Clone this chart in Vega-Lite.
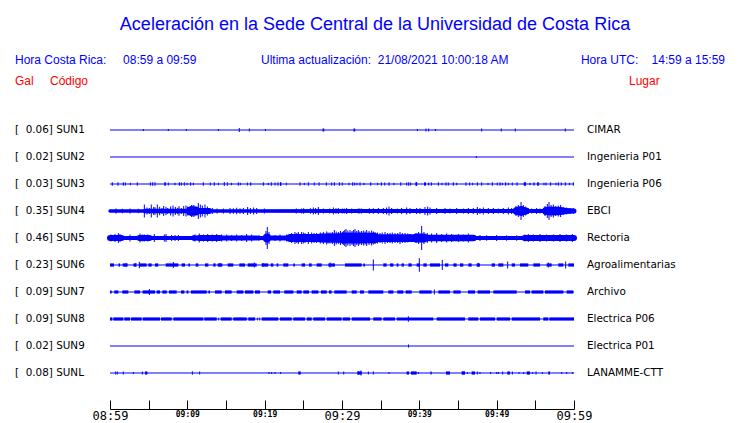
{
 "$schema": "https://vega.github.io/schema/vega-lite/v6.json",
 "width": 740, "height": 369,
 "autosize": {"type": "none"},
 "padding": {"top": 40, "bottom": 14, "left": 0, "right": 0},
 "background": "white",
 "title": {"text": "Aceleración en la Sede Central de la Universidad de Costa Rica", "font": "Liberation Sans", "fontSize": 18, "fontWeight": "normal", "color": "#0000ff", "anchor": "middle", "frame": "group", "baseline": "alphabetic", "offset": 12, "dx": 5, "dy": 20},
 "config": {"view": {"stroke": null}},
 "datasets": {
  "traces": [
   {"i":0,"label":"[\u00a0\u00a00.06] SUN1","place":"CIMAR"},
   {"i":1,"label":"[\u00a0\u00a00.02] SUN2","place":"Ingenieria P01"},
   {"i":2,"label":"[\u00a0\u00a00.03] SUN3","place":"Ingenieria P06"},
   {"i":3,"label":"[\u00a0\u00a00.35] SUN4","place":"EBCI"},
   {"i":4,"label":"[\u00a0\u00a00.46] SUN5","place":"Rectoria"},
   {"i":5,"label":"[\u00a0\u00a00.23] SUN6","place":"Agroalimentarias"},
   {"i":6,"label":"[\u00a0\u00a00.09] SUN7","place":"Archivo"},
   {"i":7,"label":"[\u00a0\u00a00.09] SUN8","place":"Electrica P06"},
   {"i":8,"label":"[\u00a0\u00a00.02] SUN9","place":"Electrica P01"},
   {"i":9,"label":"[\u00a0\u00a00.08] SUNL","place":"LANAMME-CTT"}
  ],
  "env": [
   {"i":3,"t":0,"a":1.7},{"i":3,"t":4.3,"a":1.7},{"i":3,"t":4.5,"a":2.2},{"i":3,"t":10.2,"a":2.2},{"i":3,"t":10.4,"a":4.5},{"i":3,"t":11.1,"a":4.5},{"i":3,"t":11.4,"a":3},{"i":3,"t":12.8,"a":3},{"i":3,"t":13.1,"a":1.8},{"i":3,"t":30,"a":2},{"i":3,"t":52.3,"a":2},{"i":3,"t":52.6,"a":4},{"i":3,"t":53.2,"a":5},{"i":3,"t":53.8,"a":3.5},{"i":3,"t":54.2,"a":2},{"i":3,"t":56.1,"a":2},{"i":3,"t":56.4,"a":4},{"i":3,"t":57,"a":4.5},{"i":3,"t":58.3,"a":4},{"i":3,"t":59,"a":3},{"i":3,"t":60,"a":2.5},
   {"i":4,"t":0,"a":3},{"i":4,"t":1.5,"a":3},{"i":4,"t":1.7,"a":1.9},{"i":4,"t":3.6,"a":1.9},{"i":4,"t":3.8,"a":3},{"i":4,"t":5.1,"a":3},{"i":4,"t":5.3,"a":1.9},{"i":4,"t":10.7,"a":1.9},{"i":4,"t":10.9,"a":3},{"i":4,"t":11.3,"a":2.2},{"i":4,"t":11.5,"a":3},{"i":4,"t":14.2,"a":3},{"i":4,"t":14.4,"a":2.5},{"i":4,"t":19,"a":2.5},{"i":4,"t":19.3,"a":1.9},{"i":4,"t":20,"a":2.2},{"i":4,"t":20.3,"a":4.5},{"i":4,"t":20.7,"a":2.5},{"i":4,"t":23.1,"a":2.5},{"i":4,"t":23.3,"a":4},{"i":4,"t":26.9,"a":4},{"i":4,"t":27.2,"a":4.5},{"i":4,"t":29.7,"a":4.8},{"i":4,"t":30.2,"a":5.5},{"i":4,"t":34.2,"a":5.2},{"i":4,"t":34.5,"a":4},{"i":4,"t":39.3,"a":3.8},{"i":4,"t":39.6,"a":4.5},{"i":4,"t":40.6,"a":4.5},{"i":4,"t":40.9,"a":3.2},{"i":4,"t":47,"a":3.2},{"i":4,"t":47.3,"a":2},{"i":4,"t":53.3,"a":2},{"i":4,"t":53.6,"a":3},{"i":4,"t":60,"a":3}
  ],
  "blobs": [
   {"i":2,"t":7.05,"t2":7.2},{"i":2,"t":22.02,"t2":22.15},{"i":2,"t":39.5,"t2":39.72},{"i":2,"t":40.62,"t2":40.85},{"i":2,"t":53.5,"t2":53.8},{"i":2,"t":55.25,"t2":55.45},
   {"i":5,"t":0,"t2":0.52},{"i":5,"t":1.1,"t2":1.3},{"i":5,"t":1.64,"t2":2.28},{"i":5,"t":3.02,"t2":3.36},{"i":5,"t":3.79,"t2":4.74},{"i":5,"t":4.96,"t2":5.39},{"i":5,"t":5.82,"t2":6.25},{"i":5,"t":7.2,"t2":8.84},{"i":5,"t":9.27,"t2":9.7},{"i":5,"t":10.13,"t2":10.34},{"i":5,"t":11.08,"t2":11.42},{"i":5,"t":12.28,"t2":12.72},{"i":5,"t":13.36,"t2":13.66},{"i":5,"t":13.92,"t2":14.53},{"i":5,"t":15.22,"t2":15.95},{"i":5,"t":16.72,"t2":17.46},{"i":5,"t":17.8,"t2":18.97},{"i":5,"t":19.61,"t2":20.47},{"i":5,"t":20.78,"t2":21.12},{"i":5,"t":21.55,"t2":21.77},{"i":5,"t":22.41,"t2":23.06},{"i":5,"t":23.71,"t2":23.92},{"i":5,"t":24.78,"t2":25.22},{"i":5,"t":25.73,"t2":26.08},{"i":5,"t":26.72,"t2":27.37},{"i":5,"t":28.23,"t2":29.09},{"i":5,"t":30.39,"t2":32.54},{"i":5,"t":32.76,"t2":32.97},{"i":5,"t":35.34,"t2":35.77},{"i":5,"t":36.21,"t2":36.64},{"i":5,"t":37.07,"t2":37.3},{"i":5,"t":37.7,"t2":38.0},{"i":5,"t":38.58,"t2":39.01},{"i":5,"t":39.65,"t2":40.08},{"i":5,"t":40.52,"t2":40.95},{"i":5,"t":41.38,"t2":42.67},{"i":5,"t":43.32,"t2":43.75},{"i":5,"t":44.4,"t2":44.83},{"i":5,"t":45.26,"t2":45.69},{"i":5,"t":46.34,"t2":46.77},{"i":5,"t":47.41,"t2":47.84},{"i":5,"t":49.35,"t2":49.78},{"i":5,"t":50.21,"t2":50.86},{"i":5,"t":51.94,"t2":52.37},{"i":5,"t":53.02,"t2":54.09},{"i":5,"t":54.74,"t2":55.6},{"i":5,"t":56.46,"t2":57.11},{"i":5,"t":57.97,"t2":58.62},{"i":5,"t":59.27,"t2":60},
   {"i":6,"t":0,"t2":0.22},{"i":6,"t":0.56,"t2":1.08},{"i":6,"t":1.59,"t2":2.37},{"i":6,"t":3.15,"t2":3.88},{"i":6,"t":4.22,"t2":5.82},{"i":6,"t":6.03,"t2":6.47},{"i":6,"t":6.77,"t2":7.33},{"i":6,"t":7.63,"t2":8.62},{"i":6,"t":9.18,"t2":9.61},{"i":6,"t":9.91,"t2":10.13},{"i":6,"t":10.47,"t2":12.5},{"i":6,"t":12.72,"t2":12.93},{"i":6,"t":13.58,"t2":14.44},{"i":6,"t":14.87,"t2":15.73},{"i":6,"t":16.38,"t2":17.24},{"i":6,"t":17.46,"t2":18.53},{"i":6,"t":18.75,"t2":19.4},{"i":6,"t":20.39,"t2":20.82},{"i":6,"t":21.12,"t2":21.98},{"i":6,"t":22.54,"t2":23.71},{"i":6,"t":24.14,"t2":24.78},{"i":6,"t":25,"t2":25.73},{"i":6,"t":26.08,"t2":26.94},{"i":6,"t":27.28,"t2":28.02},{"i":6,"t":28.32,"t2":28.66},{"i":6,"t":29.01,"t2":30.6},{"i":6,"t":31.25,"t2":31.9},{"i":6,"t":32.33,"t2":32.84},{"i":6,"t":33.4,"t2":35.34},{"i":6,"t":35.99,"t2":36.64},{"i":6,"t":37.15,"t2":37.93},{"i":6,"t":38.23,"t2":39.01},{"i":6,"t":40,"t2":41.59},{"i":6,"t":42.46,"t2":43.96},{"i":6,"t":44.4,"t2":45.34},{"i":6,"t":46.29,"t2":47.2},{"i":6,"t":47.54,"t2":49.14},{"i":6,"t":49.57,"t2":52.59},{"i":6,"t":53.66,"t2":54.31},{"i":6,"t":54.52,"t2":56.03},{"i":6,"t":56.25,"t2":58.62},{"i":6,"t":59.05,"t2":59.91},
   {"i":7,"t":0,"t2":0.3},{"i":7,"t":0.43,"t2":1.72},{"i":7,"t":1.85,"t2":2.59},{"i":7,"t":2.72,"t2":4.1},{"i":7,"t":4.23,"t2":6.47},{"i":7,"t":6.6,"t2":7.98},{"i":7,"t":8.19,"t2":12.07},{"i":7,"t":12.19,"t2":13.8},{"i":7,"t":14.0,"t2":14.1},{"i":7,"t":14.31,"t2":15.74},{"i":7,"t":15.94,"t2":17.68},{"i":7,"t":17.88,"t2":18.75},{"i":7,"t":19.0,"t2":19.1},{"i":7,"t":19.3,"t2":19.4},{"i":7,"t":19.62,"t2":21.76},{"i":7,"t":21.98,"t2":23.5},{"i":7,"t":23.7,"t2":25.22},{"i":7,"t":25.44,"t2":26.08},{"i":7,"t":26.29,"t2":27.8},{"i":7,"t":28.02,"t2":29.96},{"i":7,"t":30.09,"t2":31.04},{"i":7,"t":31.26,"t2":33.62},{"i":7,"t":34.05,"t2":35.13},{"i":7,"t":35.34,"t2":36.85},{"i":7,"t":37.07,"t2":41.81},{"i":7,"t":42.25,"t2":45.91},{"i":7,"t":46.33,"t2":47.63},{"i":7,"t":47.85,"t2":49.79},{"i":7,"t":50.01,"t2":51.73},{"i":7,"t":51.95,"t2":55.61},{"i":7,"t":56.03,"t2":56.68},{"i":7,"t":56.81,"t2":60},
   {"i":9,"t":4.53,"t2":4.83},{"i":9,"t":24.35,"t2":24.66},{"i":9,"t":31.98,"t2":32.54},{"i":9,"t":38.36,"t2":38.66},{"i":9,"t":38.92,"t2":39.66},{"i":9,"t":41.43,"t2":41.6},{"i":9,"t":43.45,"t2":43.97},{"i":9,"t":45.47,"t2":45.9},{"i":9,"t":46.77,"t2":47.2},{"i":9,"t":51.38,"t2":51.72},{"i":9,"t":53.88,"t2":54.31},{"i":9,"t":56.68,"t2":56.9}
  ],
  "spikes": [
   {"i":0,"t":4.31,"a":1},{"i":0,"t":7.54,"a":1},{"i":0,"t":9.87,"a":1},{"i":0,"t":14.01,"a":1},{"i":0,"t":16.72,"a":2},{"i":0,"t":18.02,"a":1.5},{"i":0,"t":20.09,"a":1},{"i":0,"t":27.55,"a":1.5},{"i":0,"t":27.65,"a":1.5},{"i":0,"t":31.55,"a":1.5},{"i":0,"t":31.64,"a":1.5},{"i":0,"t":39.74,"a":1},{"i":0,"t":40.86,"a":1.5},{"i":0,"t":41.21,"a":1.5},{"i":0,"t":42.07,"a":1},{"i":0,"t":48.06,"a":1.5},{"i":0,"t":50.6,"a":1.5},{"i":0,"t":52.41,"a":1.5},{"i":0,"t":58.88,"a":1.5},
   {"i":1,"t":47.37,"a":1},
   {"i":2,"t":0.3,"a":1.7},{"i":2,"t":1.03,"a":1.7},{"i":2,"t":1.72,"a":1.7},{"i":2,"t":1.98,"a":1.5},{"i":2,"t":2.63,"a":1.2},{"i":2,"t":3.53,"a":1.7},{"i":2,"t":5.22,"a":1.7},{"i":2,"t":5.52,"a":1.7},{"i":2,"t":5.82,"a":1.7},{"i":2,"t":7.11,"a":1.7},{"i":2,"t":7.54,"a":1.5},{"i":2,"t":8.41,"a":1.2},{"i":2,"t":8.97,"a":1.7},{"i":2,"t":9.22,"a":1.5},{"i":2,"t":9.61,"a":1.7},{"i":2,"t":9.96,"a":1.2},{"i":2,"t":10.43,"a":1.7},{"i":2,"t":10.78,"a":1.2},{"i":2,"t":12.07,"a":1.7},{"i":2,"t":12.97,"a":1.5},{"i":2,"t":13.49,"a":1.7},{"i":2,"t":14.01,"a":1.2},{"i":2,"t":14.78,"a":2},{"i":2,"t":15.17,"a":1.7},{"i":2,"t":15.69,"a":1.2},{"i":2,"t":16.59,"a":1.7},{"i":2,"t":16.85,"a":1.2},{"i":2,"t":17.76,"a":1.5},{"i":2,"t":18.19,"a":1.7},{"i":2,"t":19.83,"a":1.7},{"i":2,"t":20.47,"a":1.2},{"i":2,"t":20.86,"a":1.7},{"i":2,"t":21.34,"a":1.5},{"i":2,"t":21.72,"a":1.7},{"i":2,"t":22.07,"a":2},{"i":2,"t":22.8,"a":1.2},{"i":2,"t":24.57,"a":1.7},{"i":2,"t":25.13,"a":1.2},{"i":2,"t":25.65,"a":1.7},{"i":2,"t":26.42,"a":1.5},{"i":2,"t":27.03,"a":1.7},{"i":2,"t":27.97,"a":1.7},{"i":2,"t":28.66,"a":1.5},{"i":2,"t":29.01,"a":1.7},{"i":2,"t":29.66,"a":1.7},{"i":2,"t":30.04,"a":1.5},{"i":2,"t":30.9,"a":1.2},{"i":2,"t":31.38,"a":1.7},{"i":2,"t":31.64,"a":1.5},{"i":2,"t":31.94,"a":1.2},{"i":2,"t":32.33,"a":1.7},{"i":2,"t":32.84,"a":1.2},{"i":2,"t":33.71,"a":1.7},{"i":2,"t":34.61,"a":1.2},{"i":2,"t":35.09,"a":1.7},{"i":2,"t":35.52,"a":1.5},{"i":2,"t":36.08,"a":1.7},{"i":2,"t":36.72,"a":1.2},{"i":2,"t":37.6,"a":1.7},{"i":2,"t":38.36,"a":1.5},{"i":2,"t":38.62,"a":1.7},{"i":2,"t":38.88,"a":1.5},{"i":2,"t":39.61,"a":2},{"i":2,"t":40.73,"a":1.7},{"i":2,"t":41.21,"a":1.5},{"i":2,"t":41.55,"a":1.7},{"i":2,"t":42.46,"a":1.7},{"i":2,"t":42.93,"a":1.2},{"i":2,"t":43.45,"a":1.7},{"i":2,"t":43.75,"a":1.5},{"i":2,"t":44.4,"a":1.7},{"i":2,"t":44.83,"a":1.2},{"i":2,"t":46.03,"a":1.7},{"i":2,"t":46.51,"a":1.5},{"i":2,"t":46.9,"a":1.2},{"i":2,"t":47.5,"a":1.7},{"i":2,"t":48.06,"a":1.7},{"i":2,"t":48.88,"a":1.2},{"i":2,"t":49.44,"a":1.7},{"i":2,"t":50.08,"a":1.5},{"i":2,"t":50.43,"a":1.7},{"i":2,"t":50.73,"a":1.2},{"i":2,"t":51.16,"a":1.7},{"i":2,"t":51.51,"a":1.2},{"i":2,"t":52.02,"a":1.5},{"i":2,"t":52.63,"a":1.7},{"i":2,"t":53.66,"a":2},{"i":2,"t":54.31,"a":1.2},{"i":2,"t":54.83,"a":1.7},{"i":2,"t":55.34,"a":1.7},{"i":2,"t":56.12,"a":1.2},{"i":2,"t":56.38,"a":1.5},{"i":2,"t":56.98,"a":1.7},{"i":2,"t":57.67,"a":1.2},{"i":2,"t":57.97,"a":1.7},{"i":2,"t":58.36,"a":1.5},{"i":2,"t":58.88,"a":1.7},{"i":2,"t":59.4,"a":1.2},{"i":2,"t":59.91,"a":1.7},
   {"i":3,"t":0.78,"a":2.5},{"i":3,"t":1.59,"a":2.3},{"i":3,"t":2.59,"a":2.5},{"i":3,"t":3.66,"a":2.2},{"i":3,"t":4.44,"a":6.5},{"i":3,"t":4.78,"a":3.5},{"i":3,"t":5.09,"a":3},{"i":3,"t":5.34,"a":6.5},{"i":3,"t":5.65,"a":4},{"i":3,"t":5.82,"a":3.8},{"i":3,"t":6.12,"a":6.5},{"i":3,"t":6.42,"a":4.3},{"i":3,"t":6.72,"a":3},{"i":3,"t":6.94,"a":5},{"i":3,"t":7.24,"a":4.3},{"i":3,"t":7.46,"a":3},{"i":3,"t":7.84,"a":4.5},{"i":3,"t":8.15,"a":5.5},{"i":3,"t":8.45,"a":4},{"i":3,"t":8.75,"a":3.3},{"i":3,"t":8.92,"a":4.8},{"i":3,"t":9.22,"a":3},{"i":3,"t":9.53,"a":5},{"i":3,"t":9.83,"a":5.5},{"i":3,"t":10.04,"a":4.5},{"i":3,"t":10.4,"a":5},{"i":3,"t":10.55,"a":6},{"i":3,"t":10.7,"a":5.5},{"i":3,"t":10.85,"a":6},{"i":3,"t":11.0,"a":4.5},{"i":3,"t":11.42,"a":8},{"i":3,"t":11.68,"a":6.5},{"i":3,"t":11.94,"a":5.5},{"i":3,"t":12.28,"a":6.5},{"i":3,"t":12.59,"a":4.5},{"i":3,"t":12.89,"a":3},{"i":3,"t":13.23,"a":3},{"i":3,"t":13.84,"a":2.5},{"i":3,"t":14.66,"a":2.5},{"i":3,"t":15.52,"a":3},{"i":3,"t":15.95,"a":2.8},{"i":3,"t":16.38,"a":3.2},{"i":3,"t":16.81,"a":2.8},{"i":3,"t":17.24,"a":3},{"i":3,"t":17.8,"a":4},{"i":3,"t":18.15,"a":3},{"i":3,"t":18.58,"a":3.5},{"i":3,"t":18.97,"a":3},{"i":3,"t":19.96,"a":2.5},{"i":3,"t":24.09,"a":2.5},{"i":3,"t":24.78,"a":2.5},{"i":3,"t":25.04,"a":2.8},{"i":3,"t":25.91,"a":2.8},{"i":3,"t":26.29,"a":3.5},{"i":3,"t":26.59,"a":3},{"i":3,"t":26.94,"a":4},{"i":3,"t":27.59,"a":2.5},{"i":3,"t":28.41,"a":2.5},{"i":3,"t":28.88,"a":3.5},{"i":3,"t":29.22,"a":2.8},{"i":3,"t":29.53,"a":3},{"i":3,"t":30.04,"a":2.5},{"i":3,"t":30.3,"a":2.5},{"i":3,"t":30.6,"a":3},{"i":3,"t":31.25,"a":2.5},{"i":3,"t":32.1,"a":2.5},{"i":3,"t":32.3,"a":2.5},{"i":3,"t":32.54,"a":2.5},{"i":3,"t":33.53,"a":2.8},{"i":3,"t":34.05,"a":2.8},{"i":3,"t":34.7,"a":3},{"i":3,"t":35.34,"a":3},{"i":3,"t":35.77,"a":3.5},{"i":3,"t":36.08,"a":4.5},{"i":3,"t":36.42,"a":3},{"i":3,"t":37.15,"a":2.5},{"i":3,"t":37.71,"a":3},{"i":3,"t":38.36,"a":3.5},{"i":3,"t":38.79,"a":3},{"i":3,"t":39.65,"a":3},{"i":3,"t":40.08,"a":3},{"i":3,"t":40.73,"a":4},{"i":3,"t":41.08,"a":4.5},{"i":3,"t":41.38,"a":3.5},{"i":3,"t":42.24,"a":3},{"i":3,"t":43.32,"a":3},{"i":3,"t":43.96,"a":2.5},{"i":3,"t":44.83,"a":3},{"i":3,"t":45.69,"a":2.5},{"i":3,"t":46.34,"a":3},{"i":3,"t":46.98,"a":3},{"i":3,"t":47.5,"a":4},{"i":3,"t":47.84,"a":3},{"i":3,"t":48.27,"a":3.5},{"i":3,"t":48.92,"a":3},{"i":3,"t":49.57,"a":3},{"i":3,"t":50.21,"a":2.5},{"i":3,"t":50.86,"a":3},{"i":3,"t":51.51,"a":3.5},{"i":3,"t":51.94,"a":3},{"i":3,"t":52.5,"a":5},{"i":3,"t":52.8,"a":6},{"i":3,"t":53.15,"a":9},{"i":3,"t":53.45,"a":6},{"i":3,"t":53.75,"a":4.5},{"i":3,"t":54.09,"a":3},{"i":3,"t":54.52,"a":2.5},{"i":3,"t":55.17,"a":3},{"i":3,"t":55.6,"a":2.5},{"i":3,"t":56.25,"a":5},{"i":3,"t":56.55,"a":7},{"i":3,"t":56.77,"a":9},{"i":3,"t":57.03,"a":6},{"i":3,"t":57.33,"a":6.5},{"i":3,"t":57.63,"a":5},{"i":3,"t":57.97,"a":5.5},{"i":3,"t":58.27,"a":6},{"i":3,"t":58.62,"a":4},{"i":3,"t":59.05,"a":3.5},{"i":3,"t":59.48,"a":3},{"i":3,"t":59.91,"a":3},
   {"i":4,"t":0.13,"a":3.5},{"i":4,"t":0.65,"a":4},{"i":4,"t":1.08,"a":5},{"i":4,"t":1.29,"a":4},{"i":4,"t":2.59,"a":3.5},{"i":4,"t":3.88,"a":4.5},{"i":4,"t":4.18,"a":3.5},{"i":4,"t":4.44,"a":3.5},{"i":4,"t":4.87,"a":3.5},{"i":4,"t":5.73,"a":4},{"i":4,"t":7.03,"a":3.5},{"i":4,"t":7.24,"a":4},{"i":4,"t":7.97,"a":3},{"i":4,"t":8.41,"a":3},{"i":4,"t":8.84,"a":3},{"i":4,"t":10.99,"a":3.5},{"i":4,"t":11.55,"a":4.5},{"i":4,"t":12.07,"a":3.5},{"i":4,"t":12.63,"a":4},{"i":4,"t":13.23,"a":3.5},{"i":4,"t":13.79,"a":4},{"i":4,"t":14.44,"a":3.5},{"i":4,"t":15.09,"a":3.5},{"i":4,"t":15.73,"a":3},{"i":4,"t":16.38,"a":3.5},{"i":4,"t":17.03,"a":3},{"i":4,"t":17.67,"a":4},{"i":4,"t":18.32,"a":3.5},{"i":4,"t":19.27,"a":3},{"i":4,"t":20.17,"a":7},{"i":4,"t":20.34,"a":11},{"i":4,"t":20.56,"a":6},{"i":4,"t":21.34,"a":3},{"i":4,"t":21.98,"a":3.5},{"i":4,"t":22.84,"a":3.5},{"i":4,"t":23.49,"a":5},{"i":4,"t":23.92,"a":6},{"i":4,"t":24.15,"a":5},{"i":4,"t":24.35,"a":6},{"i":4,"t":24.78,"a":6},{"i":4,"t":25.0,"a":5.5},{"i":4,"t":25.22,"a":5},{"i":4,"t":25.65,"a":6},{"i":4,"t":26.08,"a":5.5},{"i":4,"t":26.4,"a":5},{"i":4,"t":26.72,"a":5},{"i":4,"t":27.2,"a":5.5},{"i":4,"t":27.59,"a":6},{"i":4,"t":28.02,"a":6.5},{"i":4,"t":28.2,"a":5.5},{"i":4,"t":28.45,"a":5.5},{"i":4,"t":28.75,"a":6},{"i":4,"t":29.01,"a":8},{"i":4,"t":29.25,"a":6.5},{"i":4,"t":29.53,"a":6},{"i":4,"t":29.8,"a":7},{"i":4,"t":30.04,"a":6},{"i":4,"t":30.17,"a":7},{"i":4,"t":30.35,"a":8},{"i":4,"t":30.52,"a":9},{"i":4,"t":30.75,"a":7.5},{"i":4,"t":31.03,"a":8},{"i":4,"t":31.3,"a":7},{"i":4,"t":31.5,"a":8},{"i":4,"t":31.68,"a":9},{"i":4,"t":31.9,"a":7},{"i":4,"t":32.11,"a":8},{"i":4,"t":32.3,"a":6.5},{"i":4,"t":32.54,"a":7},{"i":4,"t":32.8,"a":7.5},{"i":4,"t":33.0,"a":6.5},{"i":4,"t":33.19,"a":8},{"i":4,"t":33.5,"a":7},{"i":4,"t":33.83,"a":7.5},{"i":4,"t":34.05,"a":6.5},{"i":4,"t":34.27,"a":6},{"i":4,"t":34.6,"a":5.5},{"i":4,"t":34.91,"a":5},{"i":4,"t":35.2,"a":5.5},{"i":4,"t":35.56,"a":6},{"i":4,"t":35.9,"a":5},{"i":4,"t":36.21,"a":5},{"i":4,"t":36.5,"a":5.5},{"i":4,"t":36.85,"a":5},{"i":4,"t":37.2,"a":5},{"i":4,"t":37.5,"a":6},{"i":4,"t":37.8,"a":5},{"i":4,"t":38.15,"a":5},{"i":4,"t":38.5,"a":4.5},{"i":4,"t":38.79,"a":4},{"i":4,"t":39.57,"a":5},{"i":4,"t":39.91,"a":6},{"i":4,"t":40.3,"a":12},{"i":4,"t":40.6,"a":6},{"i":4,"t":41.03,"a":5},{"i":4,"t":41.59,"a":4.5},{"i":4,"t":42.24,"a":5},{"i":4,"t":42.89,"a":4},{"i":4,"t":43.53,"a":4.5},{"i":4,"t":44.18,"a":4},{"i":4,"t":45.04,"a":4},{"i":4,"t":45.69,"a":3.5},{"i":4,"t":46.34,"a":4.5},{"i":4,"t":46.98,"a":3},{"i":4,"t":47.84,"a":3},{"i":4,"t":48.71,"a":2.8},{"i":4,"t":50,"a":3},{"i":4,"t":51.29,"a":2.8},{"i":4,"t":52.59,"a":2.8},{"i":4,"t":53.66,"a":3.5},{"i":4,"t":54.09,"a":4},{"i":4,"t":54.74,"a":3.5},{"i":4,"t":55.6,"a":4},{"i":4,"t":56.46,"a":3.5},{"i":4,"t":57.33,"a":3.5},{"i":4,"t":58.19,"a":4},{"i":4,"t":59.05,"a":3.5},{"i":4,"t":59.78,"a":4},
   {"i":5,"t":2.07,"a":2},{"i":5,"t":3.36,"a":2},{"i":5,"t":3.79,"a":3.2},{"i":5,"t":8.19,"a":3},{"i":5,"t":14.22,"a":2},{"i":5,"t":18.66,"a":2.5},{"i":5,"t":19.78,"a":2},{"i":5,"t":28.45,"a":2.5},{"i":5,"t":34.05,"a":5.5},{"i":5,"t":40.0,"a":6.7},{"i":5,"t":42.97,"a":5},{"i":5,"t":47.63,"a":2},{"i":5,"t":51.42,"a":3.5},{"i":5,"t":56.68,"a":2.5},{"i":5,"t":58.92,"a":3.5},
   {"i":6,"t":5.09,"a":3},{"i":6,"t":41.94,"a":2.5},
   {"i":7,"t":38.58,"a":2.8},
   {"i":8,"t":38.6,"a":1.5},
   {"i":9,"t":0.73,"a":1.5},{"i":9,"t":0.95,"a":1.5},{"i":9,"t":1.72,"a":1.5},{"i":9,"t":3.02,"a":1},{"i":9,"t":4.18,"a":1.5},{"i":9,"t":10.65,"a":1.7},{"i":9,"t":11.59,"a":1.5},{"i":9,"t":20.56,"a":1},{"i":9,"t":20.91,"a":1},{"i":9,"t":21.34,"a":1},{"i":9,"t":22.07,"a":1},{"i":9,"t":29.53,"a":1.5},{"i":9,"t":30.22,"a":1.5},{"i":9,"t":32.1,"a":1.7},{"i":9,"t":32.46,"a":2.5},{"i":9,"t":33.41,"a":1.5},{"i":9,"t":34.05,"a":1.5},{"i":9,"t":36.08,"a":1},{"i":9,"t":39.87,"a":1},{"i":9,"t":45.6,"a":1.5},{"i":9,"t":45.8,"a":1.5},{"i":9,"t":46.21,"a":1},{"i":9,"t":47.5,"a":1.5},{"i":9,"t":47.84,"a":1},{"i":9,"t":49.22,"a":1},{"i":9,"t":50.0,"a":1},{"i":9,"t":50.22,"a":1},{"i":9,"t":50.78,"a":1.5},{"i":9,"t":52.03,"a":1.5},{"i":9,"t":52.89,"a":1},{"i":9,"t":53.49,"a":1},{"i":9,"t":54.66,"a":1},{"i":9,"t":55.09,"a":1.5},{"i":9,"t":55.91,"a":1},{"i":9,"t":58.41,"a":1},{"i":9,"t":59.05,"a":1},{"i":9,"t":59.83,"a":1}
  ]
 },
 "layer": [
  {
   "data": {"name": "spikes"},
   "mark": {"type": "tick", "orient": "vertical", "thickness": 1, "color": "#0000ff", "opacity": 1},
   "encoding": {
    "x": {"field": "t", "type": "quantitative", "title": null,
     "scale": {"domain": [0, 60], "range": [110, 574], "nice": false, "zero": false},
     "axis": {"values": [0,5,10,15,20,25,30,35,40,45,50,55,60], "title": null, "grid": false,
      "domain": true, "domainColor": "#000000", "domainWidth": 1, "tickColor": "#000000", "tickWidth": 1, "tickSize": -9,
      "labelFont": "DejaVu Sans Mono", "labelColor": "#000000", "labelBaseline": "top", "labelPadding": 10.5,
      "labelOverlap": false, "labelBound": false, "labelFlush": false,
      "labelFontSize": {"condition": {"test": "datum.value % 30 == 0", "value": 12}, "value": 8},
      "labelFontWeight": {"condition": {"test": "datum.value % 30 == 0", "value": "normal"}, "value": "bold"},
      "labelExpr": "datum.value % 10 == 0 ? (floor((539 + datum.value) / 60) < 10 ? '0' : '') + floor((539 + datum.value) / 60) + ':' + ((539 + datum.value) % 60 < 10 ? '0' : '') + ((539 + datum.value) % 60) : ''"}},
    "y": {"field": "i", "type": "quantitative", "axis": null, "scale": {"domain": [0, 9], "range": [90, 333], "nice": false, "zero": false}},
    "size": {"field": "a", "type": "quantitative", "legend": null, "scale": {"domain": [0, 10], "range": [0, 20], "zero": true}}
   }
  },
  {
   "data": {"name": "traces"},
   "mark": {"type": "rule", "color": "#0000ff", "strokeWidth": 1},
   "encoding": {
    "x": {"datum": 0, "type": "quantitative"},
    "x2": {"datum": 60},
    "y": {"field": "i", "type": "quantitative", "axis": null}
   }
  },
  {
   "data": {"name": "env"},
   "mark": {"type": "trail", "color": "#0000ff"},
   "encoding": {
    "x": {"field": "t", "type": "quantitative", "title": null},
    "y": {"field": "i", "type": "quantitative", "axis": null},
    "size": {"field": "a", "type": "quantitative", "legend": null},
    "detail": {"field": "i", "type": "nominal"}
   }
  },
  {
   "data": {"name": "blobs"},
   "mark": {"type": "rule", "color": "#0000ff", "strokeWidth": 3.2, "strokeCap": "butt"},
   "encoding": {
    "x": {"field": "t", "type": "quantitative", "title": null},
    "x2": {"field": "t2"},
    "y": {"field": "i", "type": "quantitative", "axis": null}
   }
  },
  {
   "data": {"name": "traces"},
   "mark": {"type": "text", "align": "left", "baseline": "middle", "font": "DejaVu Sans", "fontSize": 10.4, "color": "#000000"},
   "encoding": {
    "x": {"datum": -12.284, "type": "quantitative"},
    "y": {"field": "i", "type": "quantitative", "axis": null},
    "text": {"field": "label"}
   }
  },
  {
   "data": {"name": "traces"},
   "mark": {"type": "text", "align": "left", "baseline": "middle", "font": "DejaVu Sans", "fontSize": 10.4, "color": "#000000"},
   "encoding": {
    "x": {"datum": 61.681, "type": "quantitative"},
    "y": {"field": "i", "type": "quantitative", "axis": null},
    "text": {"field": "place"}
   }
  },
  {
   "data": {"values": [{"txt": "Hora Costa Rica:\u00a0\u00a0\u00a0\u00a0\u00a008:59 a 09:59"}]},
   "mark": {"type": "text", "align": "left", "baseline": "middle", "font": "Liberation Sans", "fontSize": 12, "color": "#0000ff"},
   "encoding": {"x": {"datum": -12.284, "type": "quantitative"}, "y": {"datum": -2.593, "type": "quantitative"}, "text": {"field": "txt"}}
  },
  {
   "data": {"values": [{"txt": "Ultima actualización:\u00a0\u00a021/08/2021 10:00:18 AM"}]},
   "mark": {"type": "text", "align": "left", "baseline": "middle", "font": "Liberation Sans", "fontSize": 12, "color": "#0000ff"},
   "encoding": {"x": {"datum": 19.526, "type": "quantitative"}, "y": {"datum": -2.593, "type": "quantitative"}, "text": {"field": "txt"}}
  },
  {
   "data": {"values": [{"txt": "Hora UTC:\u00a0\u00a0\u00a0\u00a014:59 a 15:59"}]},
   "mark": {"type": "text", "align": "right", "baseline": "middle", "font": "Liberation Sans", "fontSize": 12, "color": "#0000ff"},
   "encoding": {"x": {"datum": 79.526, "type": "quantitative"}, "y": {"datum": -2.593, "type": "quantitative"}, "text": {"field": "txt"}}
  },
  {
   "data": {"values": [{"txt": "Gal"}]},
   "mark": {"type": "text", "align": "left", "baseline": "middle", "font": "Liberation Sans", "fontSize": 12, "color": "#ff0000"},
   "encoding": {"x": {"datum": -12.284, "type": "quantitative"}, "y": {"datum": -1.815, "type": "quantitative"}, "text": {"field": "txt"}}
  },
  {
   "data": {"values": [{"txt": "Código"}]},
   "mark": {"type": "text", "align": "left", "baseline": "middle", "font": "Liberation Sans", "fontSize": 12, "color": "#ff0000"},
   "encoding": {"x": {"datum": -7.759, "type": "quantitative"}, "y": {"datum": -1.815, "type": "quantitative"}, "text": {"field": "txt"}}
  },
  {
   "data": {"values": [{"txt": "Lugar"}]},
   "mark": {"type": "text", "align": "left", "baseline": "middle", "font": "Liberation Sans", "fontSize": 12, "color": "#ff0000"},
   "encoding": {"x": {"datum": 67.112, "type": "quantitative"}, "y": {"datum": -1.815, "type": "quantitative"}, "text": {"field": "txt"}}
  }
 ]
}
